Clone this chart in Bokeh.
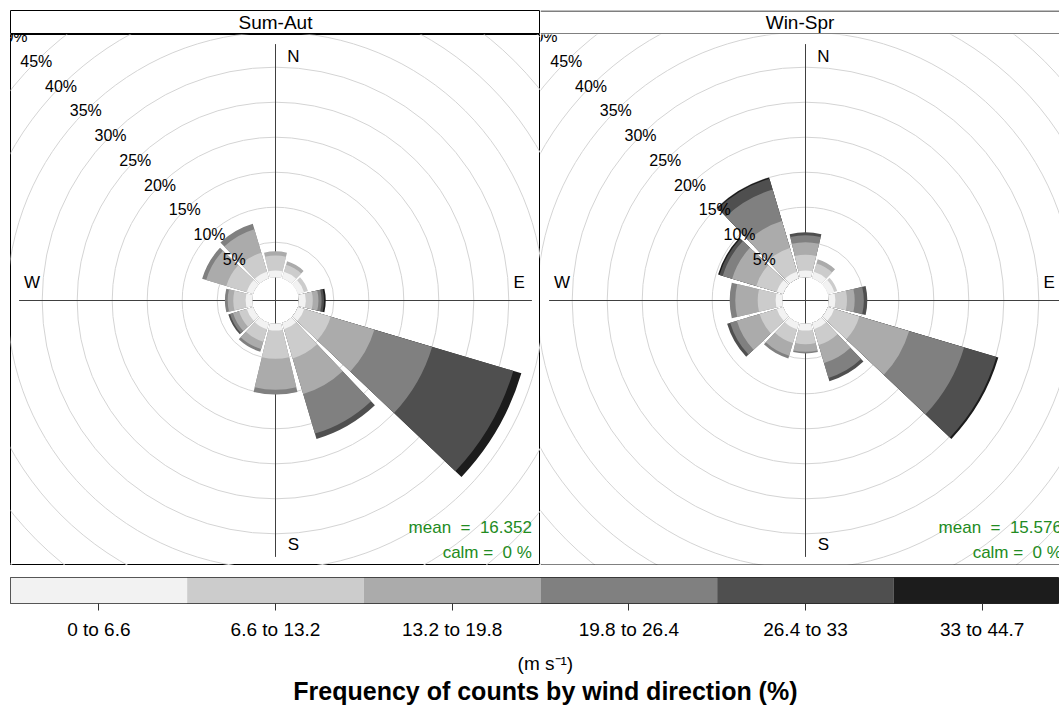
import numpy as np
from bokeh.plotting import figure
from bokeh.models import Range1d, FixedTicker, Span, ColumnDataSource
from bokeh.layouts import column, row
from bokeh.embed import file_html
from bokeh.resources import INLINE
from bokeh.core.properties import value

# ---------------- data ----------------
directions = [0, 30, 60, 90, 120, 150, 180, 210, 240, 270, 300, 330]
speed_bins = ["0 to 6.6", "6.6 to 13.2", "13.2 to 19.8", "19.8 to 26.4", "26.4 to 33", "33 to 44.7"]
bin_colors = ["#F2F2F2", "#CCCCCC", "#ABABAB", "#808080", "#4F4F4F", "#1C1C1C"]
panel_names = ["Sum-Aut", "Win-Spr"]
panel_means = ["16.352", "15.576"]
panel_calms = ["0", "0"]
ring_steps = [5, 10, 15, 20, 25, 30, 35, 40, 45, 50]

# frequency (%) per speed bin (rows) and direction (columns)
sum_aut = [
    [0.95, 0.95, 0.90, 1.00, 0.95, 0.95, 0.95, 0.95, 0.95, 0.95, 0.95, 0.95],
    [2.15, 1.05, 0.60, 1.00, 3.95, 4.35, 4.05, 1.85, 1.15, 1.75, 3.05, 2.85],
    [0.60, 0.50, 0.00, 0.80, 6.50, 5.30, 4.40, 1.10, 0.90, 0.80, 3.00, 3.50],
    [0.00, 0.00, 0.00, 0.45, 8.60, 5.90, 0.70, 0.40, 0.45, 0.40, 0.60, 0.80],
    [0.00, 0.00, 0.00, 0.35, 12.10, 0.80, 0.00, 0.00, 0.25, 0.00, 0.00, 0.00],
    [0.00, 0.00, 0.00, 0.25, 1.20, 0.00, 0.00, 0.00, 0.00, 0.00, 0.00, 0.00],
]
win_spr = [
    [0.95, 0.95, 0.95, 0.95, 0.95, 0.95, 0.95, 0.95, 0.95, 0.95, 0.95, 0.95],
    [2.25, 1.25, 0.45, 1.65, 3.75, 2.35, 1.95, 2.05, 2.55, 2.55, 3.05, 3.55],
    [1.80, 0.60, 0.00, 1.10, 7.40, 2.70, 1.10, 1.90, 3.40, 3.20, 3.60, 4.00],
    [1.00, 0.00, 0.00, 1.30, 8.20, 2.20, 0.25, 0.40, 1.00, 0.80, 1.40, 4.70],
    [0.40, 0.00, 0.00, 0.50, 4.80, 0.50, 0.00, 0.00, 0.45, 0.00, 0.50, 1.60],
    [0.00, 0.00, 0.00, 0.00, 0.30, 0.00, 0.00, 0.00, 0.00, 0.00, 0.20, 0.20],
]
panels = [sum_aut, win_spr]

# ---------------- derived scale ----------------
max_freq = max(np.array(d).sum(axis=0).max() for d in panels)
off_set = max_freq * 0.10
mymax = max_freq + off_set

FONT = "Liberation Sans"
PX = 7.0  # pixels per % unit
HALF_W = np.radians(13.5)
NB = "\u00a0"


def base_fig(width, height, xr, yr, left=0, top=0, bottom=0):
    p = figure(width=width, height=height, x_range=xr, y_range=yr,
               toolbar_location=None, output_backend="svg",
               x_axis_location=None, y_axis_location=None,
               min_border_left=left, min_border_right=0,
               min_border_top=top, min_border_bottom=bottom)
    p.xgrid.visible = False
    p.ygrid.visible = False
    p.background_fill_color = "white"
    p.border_fill_color = "white"
    p.outline_line_color = "black"
    p.outline_line_width = 1
    return p


strips = []
figs = []
for i, (name, data) in enumerate(zip(panel_names, panels)):
    left = 10 if i == 0 else 0
    frame_w = 530 if i == 0 else 519
    w = frame_w + left

    # ---- strip ----
    s = base_fig(w, 34, Range1d(0, frame_w), Range1d(0, 24), left=left, top=10)
    s.text(x=[frame_w / 2], y=[12], text=[name], text_align="center", text_baseline="middle",
           text_font=value(FONT), text_font_size="19px", text_color="black")
    if i == 1:
        s.outline_line_color = None
        s.add_layout(Span(location=23.5, dimension="width", line_color="black", line_width=1))
        s.add_layout(Span(location=0.5, dimension="width", line_color="black", line_width=1))
    strips.append(s)

    # ---- panel ----
    x0 = -265 / PX
    p = base_fig(w, 531, Range1d(x0, x0 + frame_w / PX), Range1d(-265 / PX, 266 / PX), left=left)
    if i == 1:
        p.outline_line_color = None
        p.add_layout(Span(location=-265 / PX + 0.5 / PX, dimension="width", line_color="black", line_width=1))

    rings = off_set + np.array(ring_steps, dtype=float)
    p.circle(x=0, y=0, radius=rings, fill_color=None, line_color="#D4D4D4", line_width=1)

    p.line(x=[-mymax, mymax], y=[0, 0], line_color="#404040", line_width=1)
    p.line(x=[0, 0], y=[-mymax, mymax], line_color="#404040", line_width=1)

    arr = np.array(data, dtype=float)
    cum = np.cumsum(arr, axis=0)
    ang = np.radians(90 - np.array(directions, dtype=float))
    for k in range(len(speed_bins) - 1, -1, -1):
        m = arr[k] > 0
        src = ColumnDataSource(dict(
            outer=off_set + cum[k][m],
            start=ang[m] - HALF_W,
            end=ang[m] + HALF_W,
        ))
        p.annular_wedge(x=0, y=0, inner_radius=off_set, outer_radius="outer",
                        start_angle="start", end_angle="end", source=src,
                        fill_color=bin_colors[k], line_color=None)

    # percentage labels along the NW diagonal
    p.text(x=-rings * np.sin(np.pi / 4), y=rings * np.cos(np.pi / 4),
           text=[f"{v}%" for v in ring_steps], text_align="center", text_baseline="middle",
           text_font=value(FONT), text_font_size="16px", text_color="black")

    # compass labels
    p.text(x=[0.07 * mymax, 0.95 * mymax, 0.07 * mymax, -0.95 * mymax],
           y=[0.95 * mymax, 0.07 * mymax, -0.95 * mymax, 0.07 * mymax],
           text=["N", "E", "S", "W"], text_align="center", text_baseline="middle",
           text_font=value(FONT), text_font_size="17px", text_color="black")

    # annotation
    p.text(x=[mymax], y=[-mymax], text=[f"mean {NB}={NB} {panel_means[i]}"], text_align="right",
           text_baseline="middle", y_offset=-29.5,
           text_font=value(FONT), text_font_size="17px", text_color="#228B22")
    p.text(x=[mymax], y=[-mymax], text=[f"calm ={NB} {panel_calms[i]} %"], text_align="right",
           text_baseline="middle", y_offset=-4.5,
           text_font=value(FONT), text_font_size="17px", text_color="#228B22")
    figs.append(p)

# ---------------- key ----------------
nb = len(speed_bins)
key = figure(width=1059, height=78, x_range=Range1d(0, nb * 1049 / 1060), y_range=Range1d(0, 1),
             toolbar_location=None, output_backend="svg", y_axis_location=None,
             min_border_left=10, min_border_right=0, min_border_top=12, min_border_bottom=40)
key.xgrid.visible = False
key.ygrid.visible = False
key.outline_line_color = "#222222"
key.border_fill_color = "white"
idx = np.arange(nb, dtype=float)
key.quad(left=idx, right=idx + 1, bottom=0, top=1, fill_color=bin_colors, line_color=None)
ax = key.xaxis[0]
ax.ticker = FixedTicker(ticks=list(idx + 0.5))
ax.major_label_overrides = {float(t + 0.5): lab for t, lab in zip(idx, speed_bins)}
ax.axis_line_color = None
ax.major_tick_in = 0
ax.major_tick_out = 7
ax.major_tick_line_color = "#333333"
ax.minor_tick_line_color = None
ax.major_label_text_font = FONT
ax.major_label_text_font_size = "19px"
ax.major_label_text_color = "black"
ax.major_label_standoff = 8

# ---------------- titles ----------------
tf = base_fig(1059, 63, Range1d(0, 1059), Range1d(0, 63))
tf.outline_line_color = None
tf.text(x=[540], y=[43], text=["(m s\u207b\u00b9)"], text_align="center", text_baseline="middle",
        text_font=value(FONT), text_font_size="19px", text_color="black")
tf.text(x=[540], y=[16], text=["Frequency of counts by wind direction (%)"], text_align="center",
        text_baseline="middle", text_font=value(FONT), text_font_size="25px",
        text_font_style="bold", text_color="black")

layout = column(row(*strips), row(*figs), key, tf)
open("out.html", "w").write(file_html(layout, INLINE))
